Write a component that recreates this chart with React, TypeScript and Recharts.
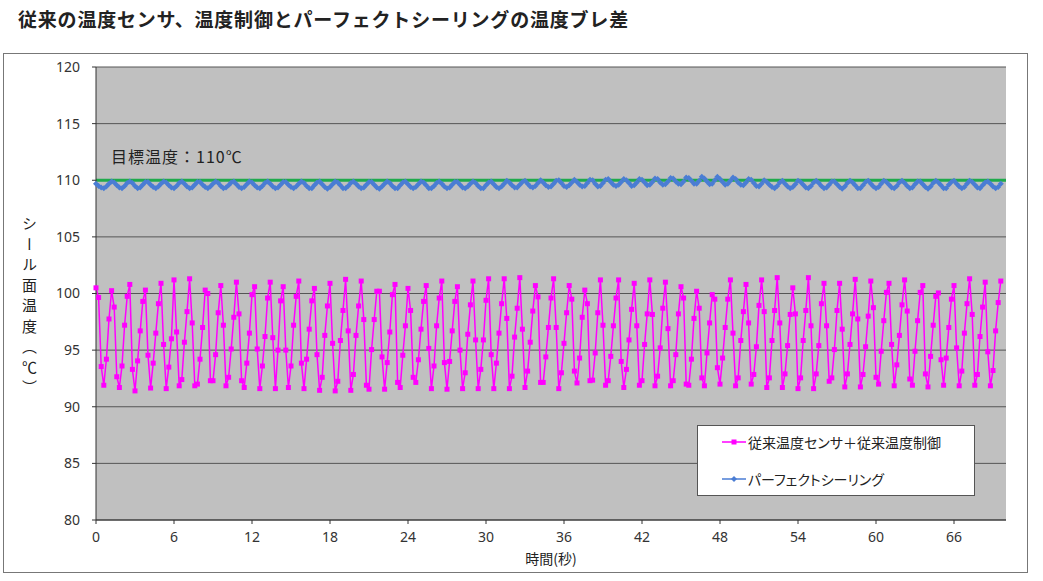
import React from 'react';
import {
  LineChart,
  Line,
  XAxis,
  YAxis,
  CartesianGrid,
  ReferenceLine,
  Legend,
} from 'recharts';

const TITLE = '従来の温度センサ、温度制御とパーフェクトシーリングの温度ブレ差';
const SERIES_NAMES = ['従来温度センサ＋従来温度制御', 'パーフェクトシーリング'];
const TARGET_TEMP = 110;
const TARGET_LABEL = '目標温度：110℃';
const X_TITLE = '時間(秒)';
const Y_TITLE = 'シール面温度（℃）';
const SAMPLE_STEP = 0.2; // seconds between samples

const X_TICKS = [0, 6, 12, 18, 24, 30, 36, 42, 48, 54, 60, 66];
const Y_TICKS = [80, 85, 90, 95, 100, 105, 110, 115, 120];

// conventional sensor + conventional control
const conventional = [
  100.5, 99.65, 93.55, 91.9, 94.2, 97.75, 100.25, 98.8, 92.65, 91.7, 93.6, 97.2, 99.75,
  100.8, 93.3, 91.4, 94.05, 96.7, 99.3, 100.3, 94.55, 91.65, 93.85, 96.5, 99.1, 100.9,
  95.5, 91.6, 93.5, 96.0, 101.2, 96.6, 91.85, 92.4, 95.7, 98.4, 101.3, 97.4, 91.85,
  92.0, 94.2, 97.0, 100.3, 100.0, 92.3, 92.3, 94.6, 98.3, 100.7, 97.2, 91.85, 92.6,
  95.1, 97.9, 101.0, 98.2, 92.3, 91.7, 93.85, 96.5, 99.9, 100.6, 95.1, 91.6, 93.6,
  96.2, 99.6, 101.0, 96.1, 91.6, 95.0, 99.35, 100.6, 95.0, 91.7, 93.6, 97.2, 99.75,
  101.1, 93.85, 91.6, 94.2, 96.85, 99.35, 100.45, 94.6, 91.45, 92.6, 96.3, 98.9, 100.9,
  95.6, 91.4, 92.25, 95.85, 98.5, 101.25, 96.7, 91.45, 92.85, 96.3, 98.9, 101.1, 97.7,
  91.9, 91.55, 95.05, 97.7, 100.2, 100.2, 94.4, 91.55, 93.9, 96.6, 99.9, 100.8, 92.15,
  91.7, 94.55, 97.15, 100.45, 98.5, 92.6, 92.15, 94.15, 96.85, 99.3, 100.7, 95.15, 91.6,
  93.6, 97.15, 99.6, 101.1, 93.9, 91.55, 94.0, 96.7, 99.3, 100.6, 95.0, 91.6, 93.0,
  96.4, 99.0, 101.1, 95.9, 91.6, 93.3, 95.9, 99.4, 101.3, 94.6, 91.6, 93.85, 96.5,
  99.1, 101.3, 97.8, 91.6, 92.7, 96.15, 98.7, 101.4, 96.85, 91.7, 93.15, 95.7, 98.45,
  100.7, 99.7, 92.15, 92.15, 94.4, 97.0, 99.6, 101.3, 97.0, 91.6, 93.0, 95.6, 98.3,
  100.7, 99.5, 93.15, 92.1, 94.3, 97.9, 100.3, 99.1, 92.3, 92.35, 94.75, 98.3, 101.2,
  97.2, 91.9, 92.3, 94.45, 97.15, 99.6, 101.2, 94.0, 91.7, 93.3, 95.9, 98.6, 100.9,
  97.15, 91.9, 92.3, 95.5, 98.2, 101.2, 98.15, 91.85, 92.7, 95.2, 98.7, 101.0, 96.9,
  91.85, 92.3, 94.6, 98.2, 100.6, 99.6, 92.0, 91.9, 94.2, 97.8, 100.2, 98.7, 92.55,
  91.85, 94.75, 97.4, 99.9, 99.5, 93.45, 92.0, 94.3, 97.0, 99.5, 101.2, 96.5, 91.85,
  92.55, 95.85, 98.4, 100.8, 97.4, 92.0, 92.85, 95.3, 98.95, 101.2, 98.4, 91.7, 92.55,
  95.85, 98.5, 101.4, 97.4, 91.7, 92.9, 95.4, 98.15, 100.5, 98.2, 91.6, 92.55, 95.85,
  98.5, 101.4, 97.15, 91.6, 92.9, 95.4, 99.1, 100.9, 97.15, 92.25, 92.55, 95.05, 98.5,
  100.9, 96.85, 91.75, 92.9, 95.5, 98.2, 101.25, 97.75, 91.75, 92.85, 95.3, 98.0, 101.1,
  98.75, 92.6, 92.0, 94.9, 97.6, 100.1, 100.9, 95.5, 91.85, 93.7, 96.3, 99.0, 101.2,
  98.45, 92.45, 91.9, 94.9, 97.6, 100.1, 100.7, 92.9, 91.75, 94.45, 97.2, 99.75, 100.05,
  94.15, 91.9, 94.3, 97.0, 99.5, 100.7, 95.2, 91.85, 93.15, 96.5, 99.1, 101.3, 98.15,
  91.9, 92.85, 96.2, 98.8, 101.0, 94.85, 91.85, 93.2, 96.7, 99.2, 101.1,
];

// perfect sealing
const perfect = [
  109.7, 109.5, 109.35, 109.3, 109.45, 109.7, 109.9, 109.8, 109.55, 109.35, 109.3, 109.5, 109.75,
  109.9, 109.75, 109.5, 109.3, 109.35, 109.6, 109.85, 109.85, 109.6, 109.4, 109.3, 109.45, 109.7,
  109.9, 109.8, 109.55, 109.35, 109.3, 109.5, 109.75, 109.9, 109.7, 109.45, 109.3, 109.35, 109.6,
  109.85, 109.85, 109.6, 109.4, 109.3, 109.45, 109.7, 109.9, 109.75, 109.5, 109.3, 109.35, 109.55,
  109.8, 109.9, 109.65, 109.4, 109.3, 109.4, 109.65, 109.9, 109.8, 109.55, 109.35, 109.3, 109.5,
  109.75, 109.9, 109.7, 109.45, 109.3, 109.35, 109.6, 109.85, 109.85, 109.6, 109.4, 109.3, 109.45,
  109.7, 109.9, 109.75, 109.5, 109.3, 109.3, 109.55, 109.8, 109.9, 109.65, 109.4, 109.25, 109.4,
  109.65, 109.9, 109.8, 109.55, 109.3, 109.3, 109.5, 109.75, 109.9, 109.7, 109.45, 109.3, 109.35,
  109.6, 109.85, 109.85, 109.6, 109.35, 109.25, 109.45, 109.7, 109.9, 109.75, 109.5, 109.3, 109.3,
  109.55, 109.8, 109.9, 109.65, 109.4, 109.3, 109.4, 109.65, 109.9, 109.8, 109.55, 109.3, 109.3,
  109.5, 109.75, 109.9, 109.7, 109.45, 109.3, 109.35, 109.6, 109.85, 109.85, 109.6, 109.35, 109.3,
  109.45, 109.7, 109.9, 109.75, 109.5, 109.3, 109.3, 109.55, 109.8, 109.9, 109.65, 109.4, 109.3,
  109.45, 109.7, 109.95, 109.8, 109.55, 109.35, 109.35, 109.6, 109.85, 109.95, 109.7, 109.45, 109.35,
  109.5, 109.75, 110.0, 109.8, 109.55, 109.4, 109.45, 109.7, 109.95, 110.0, 109.75, 109.5, 109.4,
  109.55, 109.8, 110.05, 109.85, 109.6, 109.45, 109.5, 109.75, 110.05, 110.0, 109.7, 109.45, 109.5,
  109.75, 110.05, 110.1, 109.85, 109.6, 109.5, 109.6, 109.85, 110.1, 110.0, 109.75, 109.5, 109.55,
  109.8, 110.1, 110.05, 109.8, 109.55, 109.6, 109.85, 110.15, 110.1, 109.8, 109.6, 109.65,
  109.9, 110.2, 110.15, 109.9, 109.7, 109.65, 109.9, 110.25, 110.2, 109.95, 109.7, 109.7,
  109.95, 110.3, 110.15, 109.9, 109.65, 109.7, 110.0, 110.3, 110.1, 109.85, 109.6, 109.7,
  109.95, 110.25, 110.1, 109.8, 109.6, 109.55, 109.8, 110.1, 110.05, 109.75, 109.5,
  109.45, 109.7, 110.0, 109.85, 109.6, 109.4, 109.3, 109.5, 109.8, 109.95, 109.7, 109.45, 109.3,
  109.4, 109.65, 109.95, 109.85, 109.6, 109.35, 109.3, 109.5, 109.8, 109.95, 109.75, 109.5, 109.3,
  109.35, 109.6, 109.9, 109.9, 109.65, 109.4, 109.25, 109.45, 109.75, 109.95, 109.8, 109.55, 109.3,
  109.3, 109.55, 109.85, 109.95, 109.7, 109.45, 109.3, 109.4, 109.7, 109.95, 109.85, 109.6, 109.35,
  109.3, 109.5, 109.8, 109.95, 109.75, 109.5, 109.3, 109.35, 109.65, 109.9, 109.9, 109.65, 109.4,
  109.25, 109.45, 109.75, 109.95, 109.8, 109.55, 109.3, 109.3, 109.6, 109.85, 109.95, 109.7, 109.45,
  109.3, 109.4, 109.7, 109.95, 109.85, 109.6, 109.35, 109.3, 109.55, 109.8, 109.9, 109.7,
  109.45, 109.3, 109.4, 109.7,
];

const MAGENTA = '#ff00ff';
const BLUE = '#4a7dd4';
const GREEN = '#1faa4b';
const FONT = '"Noto Sans CJK JP", "Noto Sans", sans-serif';

const data = conventional.map((v, i) => ({
  t: Math.round(i * SAMPLE_STEP * 10) / 10,
  conv: v,
  perf: perfect[i],
}));

const SquareDot = (props: any) => {
  const { cx, cy, index } = props;
  if (cx == null || cy == null) return <g key={`s-${index}`} />;
  return <rect key={`s-${index}`} x={cx - 2.5} y={cy - 2.5} width={5} height={5} fill={MAGENTA} />;
};

const DiamondDot = (props: any) => {
  const { cx, cy, index } = props;
  if (cx == null || cy == null) return <g key={`d-${index}`} />;
  return (
    <path
      key={`d-${index}`}
      d={`M${cx},${cy - 3}L${cx + 3},${cy}L${cx},${cy + 3}L${cx - 3},${cy}Z`}
      fill={BLUE}
    />
  );
};

const LegendBox = () => (
  <div
    style={{
      width: 276,
      height: 69,
      border: '1px solid #555',
      background: '#fff',
      fontFamily: FONT,
      fontSize: 14,
      color: '#222',
      fontFeatureSettings: '"palt"',
      position: 'relative',
    }}
  >
    <div style={{ position: 'absolute', left: 23, top: 6, display: 'flex', alignItems: 'center' }}>
      <svg width={26} height={12}>
        <line x1={1} y1={6} x2={25} y2={6} stroke={MAGENTA} strokeWidth={1.5} />
        <rect x={10.5} y={3.5} width={5} height={5} fill={MAGENTA} />
      </svg>
      <span style={{ marginLeft: 1 }}>{SERIES_NAMES[0]}</span>
    </div>
    <div style={{ position: 'absolute', left: 23, top: 43, display: 'flex', alignItems: 'center' }}>
      <svg width={26} height={12}>
        <line x1={1} y1={6} x2={25} y2={6} stroke={BLUE} strokeWidth={1.5} />
        <path d="M13,3L16,6L13,9L10,6Z" fill={BLUE} />
      </svg>
      <span style={{ marginLeft: 1 }}>{SERIES_NAMES[1]}</span>
    </div>
  </div>
);

export default function App() {
  return (
    <div style={{ position: 'absolute', left: 0, top: 0, width: 1043, height: 581, background: '#fff' }}>
      <div
        style={{
          position: 'absolute',
          left: 18,
          top: 5,
          fontFamily: FONT,
          fontWeight: 700,
          fontSize: 19,
          letterSpacing: 0.8,
          color: '#222',
          whiteSpace: 'nowrap',
        }}
      >
        {TITLE}
      </div>
      <div
        style={{
          position: 'absolute',
          left: 3,
          top: 53,
          width: 1025,
          height: 520,
          border: '1px solid #777',
          boxSizing: 'border-box',
        }}
      />
      <div
        style={{
          position: 'absolute',
          left: 19,
          top: 216,
          writingMode: 'vertical-rl',
          fontFamily: FONT,
          fontSize: 15,
          letterSpacing: 5.5,
          color: '#222',
        }}
      >
        {Y_TITLE}
      </div>
      <div style={{ position: 'absolute', left: 0, top: 0 }}>
        <LineChart
          width={1043}
          height={581}
          data={data}
          margin={{ top: 67, right: 37, bottom: 11, left: 36 }}
        >
          <CartesianGrid
            vertical={false}
            fill="#c0c0c0"
            stroke="#555"
            strokeWidth={1}
            horizontalValues={Y_TICKS}
          />
          <XAxis
            dataKey="t"
            type="number"
            domain={[0, 70]}
            ticks={X_TICKS}
            interval={0}
            height={50}
            tickSize={4}
            tickMargin={8}
            stroke="#333"
            tick={{ fill: '#333', fontSize: 14, fontFamily: '"Noto Sans", sans-serif' }}
            label={{
              value: X_TITLE,
              position: 'insideBottom',
              offset: 6,
              fill: '#222',
              fontSize: 14,
              fontFamily: FONT,
            }}
          />
          <YAxis
            type="number"
            domain={[80, 120]}
            ticks={Y_TICKS}
            interval={0}
            width={60}
            tickSize={4}
            tickMargin={12}
            stroke="#333"
            tick={{ fill: '#333', fontSize: 14, fontFamily: '"Noto Sans", sans-serif' }}
          />
          <Line
            type="linear"
            dataKey="conv"
            name={SERIES_NAMES[0]}
            stroke={MAGENTA}
            strokeWidth={1.5}
            dot={SquareDot}
            activeDot={false}
            isAnimationActive={false}
          />
          <Line
            type="linear"
            dataKey="perf"
            name={SERIES_NAMES[1]}
            stroke={BLUE}
            strokeWidth={2}
            dot={DiamondDot}
            activeDot={false}
            isAnimationActive={false}
          />
          <ReferenceLine
            y={TARGET_TEMP}
            stroke={GREEN}
            strokeWidth={3}
            label={(props: any) => {
              const vb = props.viewBox || {};
              return (
                <text
                  x={(vb.x || 0) + 15}
                  y={(vb.y || 0) - 17}
                  fill="#222"
                  fontSize={16}
                  letterSpacing={1}
                  fontFamily={FONT}
                >
                  {TARGET_LABEL}
                </text>
              );
            }}
          />
          <Legend
            content={<LegendBox />}
            layout="vertical"
            align="center"
            verticalAlign="middle"
            wrapperStyle={{ left: 697, top: 425, width: 278, height: 71 }}
          />
        </LineChart>
      </div>
    </div>
  );
}
